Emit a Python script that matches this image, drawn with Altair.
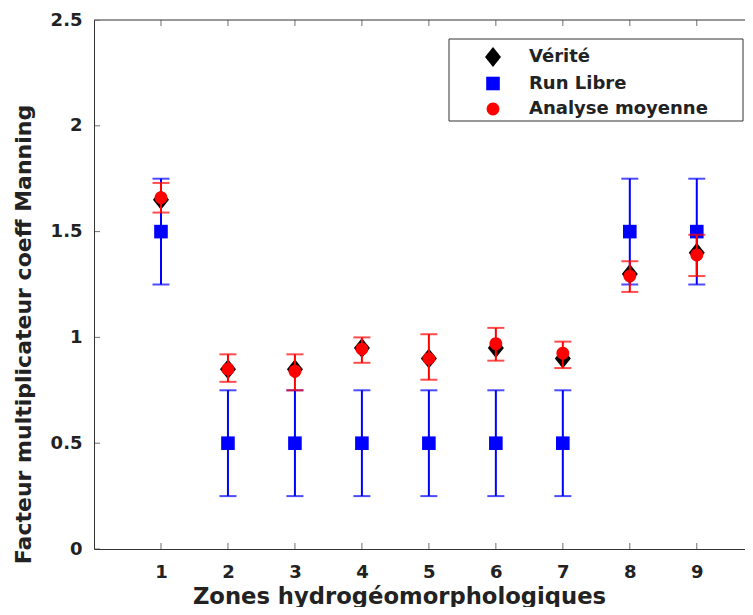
import altair as alt
import pandas as pd

# ---- data ----
zones = [1, 2, 3, 4, 5, 6, 7, 8, 9]
verite = [1.65, 0.85, 0.85, 0.95, 0.90, 0.95, 0.90, 1.30, 1.40]
run_libre = [1.50, 0.50, 0.50, 0.50, 0.50, 0.50, 0.50, 1.50, 1.50]
run_libre_low = [1.25, 0.25, 0.25, 0.25, 0.25, 0.25, 0.25, 1.25, 1.25]
run_libre_high = [1.75, 0.75, 0.75, 0.75, 0.75, 0.75, 0.75, 1.75, 1.75]
analyse = [1.66, 0.85, 0.84, 0.945, 0.90, 0.97, 0.925, 1.29, 1.39]
analyse_low = [1.59, 0.79, 0.75, 0.88, 0.80, 0.89, 0.855, 1.215, 1.29]
analyse_high = [1.73, 0.92, 0.92, 1.00, 1.015, 1.045, 0.98, 1.36, 1.485]
y_ticks = [0, 0.5, 1, 1.5, 2, 2.5]
series_names = ["Vérité", "Run Libre", "Analyse moyenne"]
series_colors = ["#000000", "#0000ff", "#ff0000"]

W, H = 651, 529
XMAX = 9.72
FONT = "DejaVu Sans"
TXT = "#222222"
AX = "#333333"

diamond = "M-1,0L0,-1.25L1,0L0,1.25Z"
square = "M-0.85,-0.85L0.85,-0.85L0.85,0.85L-0.85,0.85Z"
circle = "M0.8,0A0.8,0.8,0,1,1,-0.8,0A0.8,0.8,0,1,1,0.8,0"

df_v = pd.DataFrame({"zone": zones, "val": verite, "serie": "Vérité"})
df_r = pd.DataFrame({"zone": zones, "val": run_libre, "lo": run_libre_low,
                     "hi": run_libre_high, "serie": "Run Libre"})
df_a = pd.DataFrame({"zone": zones, "val": analyse, "lo": analyse_low,
                     "hi": analyse_high, "serie": "Analyse moyenne"})
df_xt = pd.DataFrame({"zone": zones})
df_yt = pd.DataFrame({"val": y_ticks})
df_one = pd.DataFrame({"k": [0]})

xscale = alt.Scale(domain=[0, XMAX], nice=False, zero=False)
yscale = alt.Scale(domain=[0, 2.5], nice=False, zero=False)

xaxis = alt.Axis(values=zones, title="Zones hydrogéomorphologiques", grid=False,
                 ticks=False, tickSize=0, domainColor=AX, domainWidth=1,
                 labelFont=FONT, labelFontSize=18, labelFontWeight="bold",
                 labelColor=TXT, labelPadding=14,
                 titleFont=FONT, titleFontSize=22.7, titleFontWeight="bold",
                 titleColor=TXT, titleX=305, titleY=54, titleAlign="center",
                 titleBaseline="alphabetic")
yaxis = alt.Axis(values=y_ticks, format="~g", title="Facteur multiplicateur coeff Manning",
                 grid=False, ticks=False, tickSize=0, domainColor=AX, domainWidth=1,
                 labelFont=FONT, labelFontSize=18, labelFontWeight="bold",
                 labelColor=TXT, labelPadding=12,
                 titleFont=FONT, titleFontSize=22, titleFontWeight="bold",
                 titleColor=TXT, titleX=-71, titleY=314, titleAngle=270,
                 titleAlign="center", titleBaseline="middle")


def X(field="zone"):
    return alt.X(f"{field}:Q", scale=xscale, axis=xaxis)


def Y(field="val"):
    return alt.Y(f"{field}:Q", scale=yscale, axis=yaxis)


legend = alt.Legend(title=None, orient="none", legendX=390, legendY=28, padding=0,
                    labelFont=FONT, labelFontSize=18, labelFontWeight="bold",
                    labelColor=TXT, labelLimit=400,
                    symbolSize=256, symbolStrokeWidth=0, symbolOffset=0,
                    labelOffset=27, rowPadding=7.5)
shape_enc = alt.Shape("serie:N", scale=alt.Scale(domain=series_names,
                                                 range=[diamond, square, circle]),
                      legend=legend)
color_enc = alt.Color("serie:N", scale=alt.Scale(domain=series_names, range=series_colors),
                      legend=legend)


def points(df):
    return alt.Chart(df).mark_point(filled=True, opacity=1, size=256, strokeWidth=0).encode(
        x=X(), y=Y(), shape=shape_enc, color=color_enc)


def bars(df, col):
    rule = alt.Chart(df).mark_rule(color=col, strokeWidth=2).encode(
        x=X(), y=Y("lo"), y2="hi:Q")
    cap_lo = alt.Chart(df).mark_tick(color=col, orient="horizontal", size=17, thickness=2).encode(
        x=X(), y=Y("lo"))
    cap_hi = alt.Chart(df).mark_tick(color=col, orient="horizontal", size=17, thickness=2).encode(
        x=X(), y=Y("hi"))
    return [rule, cap_lo, cap_hi]


# frame ticks (inward), top border and legend box
tick_bottom = alt.Chart(df_xt).mark_tick(color=AX, orient="vertical", size=12, thickness=1,
                                         clip=True).encode(x=X(), y=alt.value(H))
tick_top = alt.Chart(df_xt).mark_tick(color=AX, orient="vertical", size=12, thickness=1,
                                      clip=True).encode(x=X(), y=alt.value(0))
tick_left = alt.Chart(df_yt).mark_tick(color=AX, orient="horizontal", size=12, thickness=1,
                                       clip=True).encode(y=Y(), x=alt.value(0))
top_line = alt.Chart(df_one).mark_rule(color=AX, strokeWidth=1).encode(
    x=alt.value(0), x2=alt.value(W), y=alt.value(0))
legend_box = alt.Chart(df_one).mark_rect(fill="white", stroke=AX, strokeWidth=1).encode(
    x=alt.value(355), x2=alt.value(649), y=alt.value(19), y2=alt.value(101))

layers = [top_line, tick_bottom, tick_top, tick_left]
layers += bars(df_r, "#0000ff")
layers += [points(df_r), points(df_v)]
layers += bars(df_a, "#ff0000")
layers += [points(df_a), legend_box]

chart = alt.layer(*layers).properties(
    width=W, height=H,
    autosize=alt.AutoSizeParams(type="none"),
    padding={"left": 86, "top": 12, "right": 0, "bottom": 58},
    background="white",
).configure_view(strokeWidth=0)

chart.save("out.html", embed_options={"renderer": "svg", "actions": False})
